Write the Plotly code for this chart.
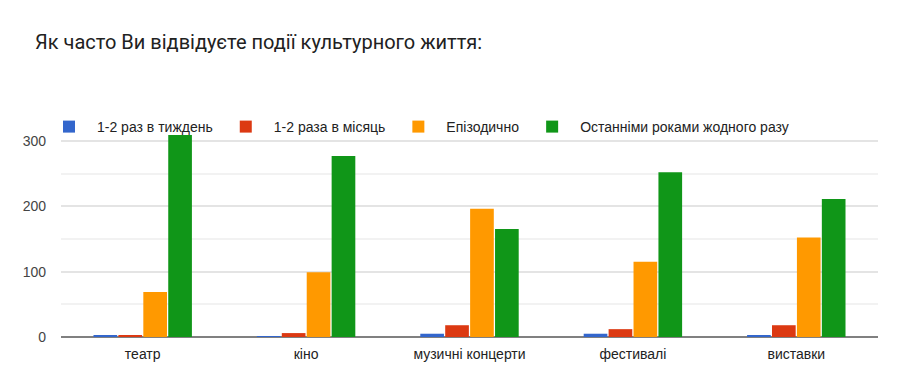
import plotly.graph_objects as go

categories = ["театр", "кіно", "музичні концерти", "фестивалі", "виставки"]
series_names = ["1-2 раз в тиждень", "1-2 раза в місяць", "Епізодично", "Останніми роками жодного разу"]
weekly = [2, 1, 5, 5, 3]
monthly = [2, 6, 18, 12, 18]
episodic = [69, 99, 196, 115, 152]
never = [309, 277, 165, 252, 211]
colors = ["#3366cc", "#dc3912", "#ff9900", "#109618"]
y_ticks = [0, 100, 200, 300]
y_minor = [50, 150, 250]

fig = go.Figure()
for name, vals, col in zip(series_names, [weekly, monthly, episodic, never], colors):
    fig.add_trace(go.Bar(x=categories, y=vals, name=name, marker=dict(color=col, line=dict(width=0))))

plot_h = 373 - 133 - 36
fig.update_layout(
    width=906, height=373,
    margin=dict(l=61, r=28, t=133, b=36, autoexpand=False),
    paper_bgcolor="white", plot_bgcolor="white",
    barmode="group", bargap=0.39, bargroupgap=0.05,
    font=dict(family="Arial, Liberation Sans", size=14, color="#444444"),
    title=dict(text="Як часто Ви відвідуєте події культурного життя:",
               x=35/906, xanchor="left", y=1 - 42/373, yanchor="middle",
               font=dict(family="Roboto", size=20, color="#212121")),
    legend=dict(orientation="h", x=-20/817, xanchor="left", y=1 + 6/plot_h, yref="paper",
                yanchor="middle", font=dict(size=14, color="#222222"), itemwidth=46,
                bgcolor="rgba(0,0,0,0)", traceorder="normal"),
    showlegend=True,
)
fig.update_yaxes(range=[0, 312], tickvals=y_ticks, showgrid=True, gridcolor="#e4e4e4", gridwidth=2,
                 zeroline=True, zerolinecolor="#808080", zerolinewidth=2,
                 tickfont=dict(size=14, color="#444444"), ticks="", ticklabelstandoff=14,
                 minor=dict(tickvals=y_minor, showgrid=True, gridcolor="#f2f2f2", gridwidth=1.5),
                 showline=False)
fig.update_xaxes(showgrid=False, tickfont=dict(size=14, color="#222222"), ticks="",
                 ticklabelstandoff=7, showline=False)

fig.write_html("out.html")
